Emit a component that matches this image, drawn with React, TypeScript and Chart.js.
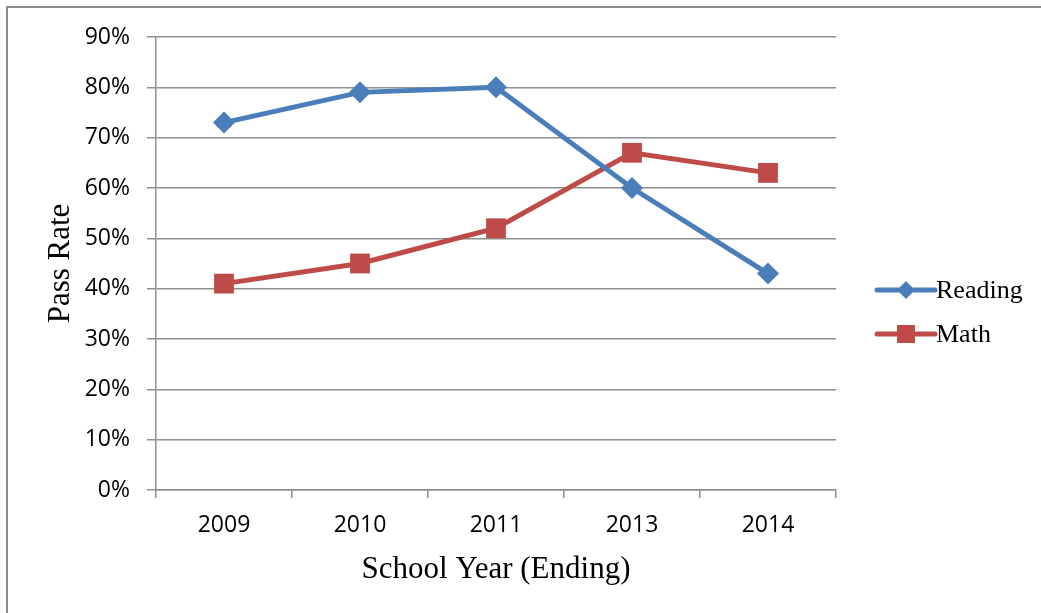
import React, { useEffect, useRef } from "react";
import { Chart, registerables } from "chart.js";

Chart.register(...registerables);

const years = ["2009", "2010", "2011", "2013", "2014"];
const reading = [73, 79, 80, 60, 43];
const math = [41, 45, 52, 67, 63];
const seriesNames = ["Reading", "Math"];
const yTitle = "Pass Rate";
const xTitle = "School Year (Ending)";

const BLUE = "#4a7ebb";
const RED = "#be4b48";
const GRID = "#8e8e8e";

const framePlugin = {
  id: "frame",
  beforeDraw(chart: any) {
    const ctx = chart.ctx;
    ctx.save();
    ctx.fillStyle = "#ffffff";
    ctx.fillRect(0, 0, chart.width, chart.height);
    ctx.strokeStyle = "#8c8c8c";
    ctx.lineWidth = 2;
    ctx.beginPath();
    ctx.moveTo(7, chart.height);
    ctx.lineTo(7, 7);
    ctx.lineTo(chart.width, 7);
    ctx.stroke();
    ctx.restore();
  },
};

const legendPlugin = {
  id: "customLegend",
  afterDraw(chart: any) {
    const ctx = chart.ctx;
    ctx.save();
    const ys = [290, 334];
    chart.data.datasets.forEach((ds: any, i: number) => {
      const y = ys[i];
      const x0 = 877;
      const x1 = 935;
      ctx.strokeStyle = ds.borderColor;
      ctx.lineWidth = 5;
      ctx.lineCap = "round";
      ctx.beginPath();
      ctx.moveTo(x0, y);
      ctx.lineTo(x1, y);
      ctx.stroke();
      ctx.fillStyle = ds.borderColor;
      const cx = (x0 + x1) / 2;
      if (ds.pointStyle === "rectRot") {
        ctx.beginPath();
        ctx.moveTo(cx, y - 9);
        ctx.lineTo(cx + 9, y);
        ctx.lineTo(cx, y + 9);
        ctx.lineTo(cx - 9, y);
        ctx.closePath();
        ctx.fill();
      } else {
        ctx.fillRect(cx - 9, y - 9, 18, 18);
      }
      ctx.fillStyle = "#000";
      ctx.font = "26px 'Liberation Serif'";
      ctx.textBaseline = "middle";
      ctx.textAlign = "left";
      ctx.fillText(ds.label, 936, y + 1);
    });
    ctx.restore();
  },
};

export default function App() {
  const ref = useRef<HTMLCanvasElement | null>(null);
  useEffect(() => {
    if (!ref.current) return;
    const chart = new Chart(ref.current, {
      type: "line",
      data: {
        labels: years,
        datasets: [
          {
            label: seriesNames[0],
            data: reading,
            borderColor: BLUE,
            backgroundColor: BLUE,
            borderWidth: 5,
            pointStyle: "rectRot",
            pointRadius: 11,
            pointBorderWidth: 0,
            pointBackgroundColor: BLUE,
            tension: 0,
          },
          {
            label: seriesNames[1],
            data: math,
            borderColor: RED,
            backgroundColor: RED,
            borderWidth: 5,
            pointStyle: "rect",
            pointRadius: 14,
            pointBorderWidth: 0,
            pointBackgroundColor: RED,
            tension: 0,
          },
        ],
      },
      options: {
        responsive: false,
        animation: false,
        layout: { padding: { left: 0, right: 205, top: 37, bottom: 0 } },
        plugins: {
          legend: { display: false },
          tooltip: { enabled: false },
        },
        scales: {
          x: {
            offset: true,
            grid: {
              offset: true,
              drawOnChartArea: false,
              drawTicks: true,
              tickLength: 8,
              color: GRID,
              lineWidth: 1.5,
            },
            border: { display: true, color: GRID, width: 1.5 },
            ticks: {
              color: "#000",
              padding: 14,
              font: { family: "'Open Sans'", size: 23 },
              maxRotation: 0,
            },
            title: {
              display: true,
              text: xTitle,
              color: "#000",
              font: { family: "'Liberation Serif'", size: 31 },
              padding: { top: 0, bottom: 25 },
            },
            afterFit: (s: any) => {
              s.height = 123;
            },
          },
          y: {
            min: 0,
            max: 90,
            ticks: {
              stepSize: 10,
              color: "#000",
              padding: 17,
              font: { family: "'Open Sans'", size: 23 },
              callback: (v: any) => v + "%",
            },
            grid: {
              color: GRID,
              lineWidth: 1.5,
              tickLength: 9,
            },
            border: { display: true, color: GRID, width: 1.5 },
            title: {
              display: true,
              text: yTitle,
              color: "#000",
              font: { family: "'Liberation Serif'", size: 31 },
              padding: { top: 42, bottom: 0 },
            },
            afterFit: (s: any) => {
              s.width = 156;
            },
          },
        },
      },
      plugins: [framePlugin, legendPlugin],
    });
    return () => chart.destroy();
  }, []);
  return (
    <div style={{ position: "absolute", left: 0, top: 0, width: 1041, height: 613 }}>
      <canvas ref={ref} width={1041} height={613} />
    </div>
  );
}
